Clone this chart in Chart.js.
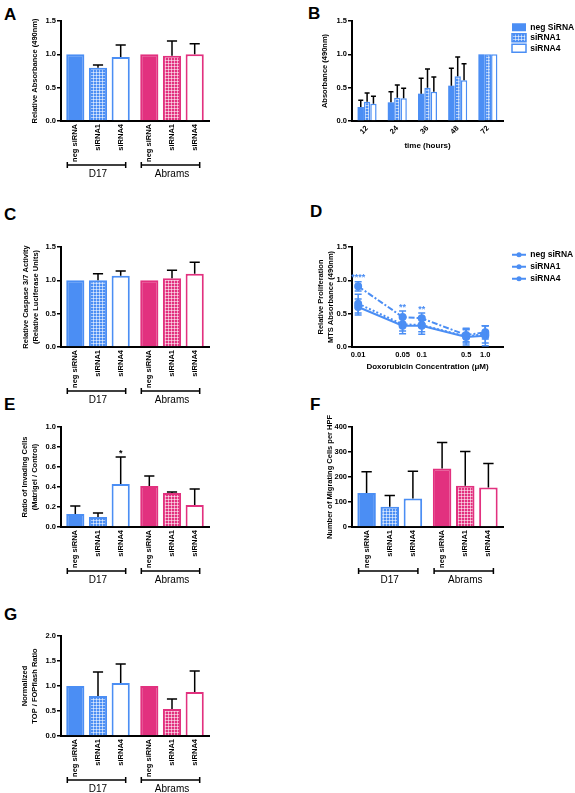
<!DOCTYPE html>
<html>
<head>
<meta charset="utf-8">
<script src="https://cdn.jsdelivr.net/npm/chart.js@4.4.0/dist/chart.umd.min.js"></script>
<style>
  body { margin: 0; background: #fff; }
  #page { position: relative; width: 575px; height: 793px; overflow: hidden; background: #fff; }
  canvas { position: absolute; }
  .tag { position: absolute; font: bold 17px/17px 'Liberation Sans', Arial, sans-serif; color: #000; }
</style>
</head>
<body>
<div id="page">
  <div class="tag" style="left:4px;top:6px">A</div>
  <div class="tag" style="left:308px;top:5px">B</div>
  <div class="tag" style="left:4px;top:206px">C</div>
  <div class="tag" style="left:310px;top:203px">D</div>
  <div class="tag" style="left:4px;top:396px">E</div>
  <div class="tag" style="left:310px;top:396px">F</div>
  <div class="tag" style="left:4px;top:606px">G</div>

  <canvas id="chartA" width="290" height="190" style="left:0;top:0"></canvas>
  <canvas id="chartB" width="285" height="151" style="left:290px;top:0"></canvas>
  <canvas id="chartC" width="290" height="190" style="left:0;top:226px"></canvas>
  <canvas id="chartD" width="285" height="146" style="left:290px;top:226px"></canvas>
  <canvas id="chartE" width="290" height="190" style="left:0;top:406px"></canvas>
  <canvas id="chartF" width="285" height="190" style="left:290px;top:406px"></canvas>
  <canvas id="chartG" width="290" height="178" style="left:0;top:615px"></canvas>
</div>
<script>
// shared categories
const groups = ['D17', 'Abrams'];
const seriesNames = ['neg siRNA', 'siRNA1', 'siRNA4'];

// A - relative absorbance (490nm)
const aNeg = [1.0, 1.0];
const aSi1 = [0.80, 0.98];
const aSi4 = [0.96, 1.0];
const aNegErr = [0, 0];
const aSi1Err = [0.04, 0.22];
const aSi4Err = [0.18, 0.16];

// B - absorbance over time
const hours = ['12', '24', '36', '48', '72'];
const bSeriesNames = ['neg SiRNA', 'siRNA1', 'siRNA4'];
const bNeg = [0.21, 0.28, 0.41, 0.53, 1.0];
const bSi1 = [0.29, 0.35, 0.50, 0.67, 1.0];
const bSi4 = [0.26, 0.34, 0.44, 0.61, 1.0];
const bNegErr = [0.10, 0.16, 0.23, 0.26, 0];
const bSi1Err = [0.13, 0.19, 0.28, 0.29, 0];
const bSi4Err = [0.11, 0.15, 0.22, 0.25, 0];

// C - caspase 3/7
const cNeg = [1.0, 1.0];
const cSi1 = [1.0, 1.03];
const cSi4 = [1.07, 1.10];
const cNegErr = [0, 0];
const cSi1Err = [0.10, 0.12];
const cSi4Err = [0.07, 0.17];

// D - proliferation vs doxorubicin
const doses = [0.01, 0.05, 0.1, 0.5, 1.0];
const doseLabels = ['0.01', '0.05', '0.1', '0.5', '1.0'];
const dNeg = [0.60, 0.32, 0.32, 0.15, 0.17];
const dSi1 = [0.91, 0.45, 0.43, 0.18, 0.22];
const dSi4 = [0.65, 0.34, 0.33, 0.16, 0.19];
const dNegErr = [0.12, 0.12, 0.13, 0.12, 0.15];
const dSi1Err = [0.07, 0.09, 0.08, 0.10, 0.10];
const dSi4Err = [0.14, 0.10, 0.10, 0.10, 0.13];
const dSi1Stars = ['****', '**', '**', '', ''];

// E - invading cells
const eNeg = [0.13, 0.41];
const eSi1 = [0.10, 0.34];
const eSi4 = [0.43, 0.22];
const eNegErr = [0.08, 0.10];
const eSi1Err = [0.04, 0.01];
const eSi4Err = [0.27, 0.16];
const eSi4Stars = ['*', ''];

// F - migrating cells per HPF
const fNeg = [136, 234];
const fSi1 = [81, 165];
const fSi4 = [114, 158];
const fNegErr = [85, 104];
const fSi1Err = [45, 137];
const fSi4Err = [109, 96];

// G - TOP/FOPflash
const gNeg = [1.0, 1.0];
const gSi1 = [0.80, 0.54];
const gSi4 = [1.06, 0.88];
const gNegErr = [0, 0];
const gSi1Err = [0.48, 0.20];
const gSi4Err = [0.38, 0.42];

const BLUE = '#4b8ef4';
const PINK = '#e2317f';
const FONT = "'Liberation Sans', Arial, sans-serif";
Chart.defaults.font.family = FONT;
Chart.defaults.color = '#000';

function hatch(ctx, color) {
  const t = document.createElement('canvas');
  t.width = 3; t.height = 3;
  const g = t.getContext('2d');
  g.fillStyle = color; g.fillRect(0, 0, 3, 3);
  g.fillStyle = 'rgba(255,255,255,0.55)';
  g.fillRect(0, 0, 3, 1); g.fillRect(0, 0, 1, 3);
  return ctx.createPattern(t, 'repeat');
}

// error bars (up only for bars, both ways for lines) + significance stars
const errorBars = {
  id: 'errorBars',
  afterDatasetsDraw(chart) {
    const ctx = chart.ctx, y = chart.scales.y;
    const isLine = chart.config.type === 'line';
    ctx.save();
    chart.data.datasets.forEach((ds, i) => {
      if (!ds.errs) return;
      const meta = chart.getDatasetMeta(i);
      const col = isLine ? ds.borderColor : '#000';
      meta.data.forEach((el, j) => {
        const v = isLine ? ds.data[j].y : ds.data[j];
        const e = ds.errs[j];
        const hw = isLine ? 3.5 : Math.max(2.5, el.width * 0.28);
        const hi = y.getPixelForValue(v + e);
        ctx.strokeStyle = col; ctx.lineWidth = 1.5; ctx.setLineDash([]);
        if (e) {
          const lo = isLine ? y.getPixelForValue(Math.max(0, v - e)) : el.y;
          ctx.beginPath();
          ctx.moveTo(el.x, lo); ctx.lineTo(el.x, hi);
          ctx.moveTo(el.x - hw, hi); ctx.lineTo(el.x + hw, hi);
          if (isLine) { ctx.moveTo(el.x - hw, lo); ctx.lineTo(el.x + hw, lo); }
          ctx.stroke();
        }
        if (ds.stars && ds.stars[j]) {
          ctx.fillStyle = col;
          ctx.font = 'bold 9px ' + FONT;
          ctx.textAlign = 'center'; ctx.textBaseline = 'alphabetic';
          ctx.fillText(ds.stars[j], el.x, hi - 1.5);
        }
      });
    });
    ctx.restore();
  }
};

// rotated bar names under the axis and group brackets
const groupLabels = {
  id: 'groupLabels',
  afterDraw(chart) {
    const ctx = chart.ctx, area = chart.chartArea;
    const metas = chart.data.datasets.map((d, i) => chart.getDatasetMeta(i));
    ctx.save();
    ctx.fillStyle = '#000'; ctx.strokeStyle = '#000'; ctx.lineWidth = 1.5;
    ctx.font = 'bold 7.5px ' + FONT;
    ctx.textAlign = 'right'; ctx.textBaseline = 'middle';
    metas.forEach((meta, i) => meta.data.forEach(el => {
      ctx.save();
      ctx.translate(el.x, area.bottom + 3);
      ctx.rotate(-Math.PI / 2);
      ctx.fillText(chart.data.datasets[i].label, 0, 0);
      ctx.restore();
    }));
    const yb = area.bottom + 44;
    chart.data.labels.forEach((g, k) => {
      const x0 = metas[0].data[k].x - 8;
      const x1 = metas[metas.length - 1].data[k].x + 5;
      ctx.beginPath();
      ctx.moveTo(x0, yb); ctx.lineTo(x1, yb);
      ctx.moveTo(x0, yb - 3); ctx.lineTo(x0, yb + 3);
      ctx.moveTo(x1, yb - 3); ctx.lineTo(x1, yb + 3);
      ctx.stroke();
    });
    ctx.restore();
  }
};

// put the point marker on the legend line samples
const legendDots = {
  id: 'legendDots',
  afterDraw(chart) {
    const ctx = chart.ctx, boxes = chart.legend.legendHitBoxes;
    ctx.save();
    boxes.forEach((b, i) => {
      ctx.fillStyle = chart.data.datasets[i].borderColor;
      ctx.beginPath();
      ctx.arc(b.left + 7, b.top + b.height / 2, 2.5, 0, Math.PI * 2);
      ctx.fill();
    });
    ctx.restore();
  }
};

function yAxis(max, step, title, titlePad, width, fmt) {
  return {
    min: 0, max: max,
    ticks: { stepSize: step, padding: 1, color: '#000', font: { size: 7.5, weight: 'bold' }, callback: fmt },
    grid: { display: true, drawOnChartArea: false, drawTicks: true, tickLength: 4, color: '#000', lineWidth: 1.5 },
    border: { display: true, color: '#000', width: 2 },
    title: { display: true, text: title, color: '#000', font: { size: 7.5, weight: 'bold', lineHeight: 1.3 }, padding: { top: titlePad, bottom: 0 } },
    afterFit(s) { s.width = width; s.paddingTop = 0; s.paddingBottom = 0; }
  };
}

// invisible spacer between plot and legend
function gapAxis(w) {
  return {
    type: 'linear', position: 'right', display: false, min: 0, max: 1,
    afterFit(s) { s.width = w; }
  };
}

const dec1 = v => Number(v).toFixed(1);

function groupedBars(id, p) {
  const canvas = document.getElementById(id);
  const ctx = canvas.getContext('2d');
  const fills = [[BLUE, PINK], [hatch(ctx, BLUE), hatch(ctx, PINK)], ['#fff', '#fff']];
  const datasets = seriesNames.map((name, i) => ({
    label: name,
    data: p.means[i],
    errs: p.errs[i],
    stars: p.stars ? p.stars[i] : null,
    backgroundColor: fills[i],
    borderColor: [BLUE, PINK],
    borderWidth: 2,
    categoryPercentage: 0.92,
    barPercentage: 0.8
  }));
  return new Chart(ctx, {
    type: 'bar',
    data: { labels: groups, datasets: datasets },
    options: {
      responsive: false,
      animation: false,
      layout: { padding: { left: 0, top: 21, right: p.padRight, bottom: 0 } },
      plugins: { legend: { display: false }, tooltip: { enabled: false } },
      scales: {
        x: {
          grid: { display: false, drawTicks: false },
          border: { display: true, color: '#000', width: 2 },
          ticks: { color: '#000', font: { size: 10 }, padding: 47, maxRotation: 0, minRotation: 0 },
          afterFit(s) { s.height = canvas.height - 121; s.paddingLeft = 0; s.paddingRight = 0; }
        },
        y: yAxis(p.max, p.step, p.title, p.titlePad, p.yWidth, p.fmt)
      }
    },
    plugins: [errorBars, groupLabels]
  });
}

groupedBars('chartA', {
  means: [aNeg, aSi1, aSi4], errs: [aNegErr, aSi1Err, aSi4Err],
  max: 1.5, step: 0.5, fmt: dec1, title: 'Relative Absorbance (490nm)', titlePad: 30,
  yWidth: 61, padRight: 81
});
groupedBars('chartC', {
  means: [cNeg, cSi1, cSi4], errs: [cNegErr, cSi1Err, cSi4Err],
  max: 1.5, step: 0.5, fmt: dec1, title: ['Relative Caspase 3/7 Activity', '(Relative Luciferase Units)'], titlePad: 21,
  yWidth: 61, padRight: 81
});
groupedBars('chartE', {
  means: [eNeg, eSi1, eSi4], errs: [eNegErr, eSi1Err, eSi4Err], stars: [null, null, eSi4Stars],
  max: 1.0, step: 0.2, fmt: dec1, title: ['Ratio of Invading Cells', '(Matrigel / Control)'], titlePad: 20,
  yWidth: 61, padRight: 81
});
groupedBars('chartF', {
  means: [fNeg, fSi1, fSi4], errs: [fNegErr, fSi1Err, fSi4Err],
  max: 400, step: 100, fmt: v => v, title: 'Number of Migrating Cells per HPF', titlePad: 35,
  yWidth: 62, padRight: 72
});
groupedBars('chartG', {
  means: [gNeg, gSi1, gSi4], errs: [gNegErr, gSi1Err, gSi4Err],
  max: 2.0, step: 0.5, fmt: dec1, title: ['Normalized', 'TOP / FOPflash Ratio'], titlePad: 20,
  yWidth: 61, padRight: 81
});

// B - time course bars with legend
(function () {
  const canvas = document.getElementById('chartB');
  const ctx = canvas.getContext('2d');
  const fills = [BLUE, hatch(ctx, BLUE), '#fff'];
  const means = [bNeg, bSi1, bSi4];
  const errs = [bNegErr, bSi1Err, bSi4Err];
  new Chart(ctx, {
    type: 'bar',
    data: {
      labels: hours,
      datasets: bSeriesNames.map((name, i) => ({
        label: name, data: means[i], errs: errs[i],
        backgroundColor: fills[i], borderColor: BLUE, borderWidth: i === 0 ? 0 : 1.5,
        categoryPercentage: 0.63, barPercentage: 1.0
      }))
    },
    options: {
      responsive: false,
      animation: false,
      layout: { padding: { left: 0, top: 21, right: 0, bottom: 0 } },
      plugins: {
        tooltip: { enabled: false },
        legend: {
          display: true, position: 'right', align: 'start', maxWidth: 65,
          labels: { boxWidth: 14, boxHeight: 8, padding: 2, color: '#000', font: { size: 8.5, weight: 'bold' } }
        }
      },
      scales: {
        x: {
          grid: { display: false, drawTicks: false },
          border: { display: true, color: '#000', width: 2 },
          ticks: { color: '#000', font: { size: 7.5, weight: 'bold' }, padding: 3, minRotation: 45, maxRotation: 45 },
          title: { display: true, text: 'time (hours)', color: '#000', font: { size: 8, weight: 'bold' }, padding: 0 },
          afterFit(s) { s.height = canvas.height - 121; s.paddingLeft = 0; s.paddingRight = 0; }
        },
        y: yAxis(1.5, 0.5, 'Absorbance (490nm)', 30, 62, dec1),
        gap: gapAxis(7)
      }
    },
    plugins: [errorBars]
  });
})();

// D - dose response lines
(function () {
  const canvas = document.getElementById('chartD');
  const ctx = canvas.getContext('2d');
  const vals = [dNeg, dSi1, dSi4];
  const errs = [dNegErr, dSi1Err, dSi4Err];
  const dashes = [[], [6, 2, 2, 2], [2, 2]];
  new Chart(ctx, {
    type: 'line',
    data: {
      datasets: seriesNames.map((name, i) => ({
        label: name,
        data: doses.map((d, k) => ({ x: d, y: vals[i][k] })),
        errs: errs[i],
        stars: i === 1 ? dSi1Stars : null,
        borderColor: BLUE, backgroundColor: BLUE,
        pointBackgroundColor: BLUE, pointBorderColor: BLUE, pointRadius: 3,
        borderWidth: 2, borderDash: dashes[i], fill: false, tension: 0
      }))
    },
    options: {
      responsive: false,
      animation: false,
      layout: { padding: { left: 0, top: 21, right: 0, bottom: 0 } },
      plugins: {
        tooltip: { enabled: false },
        legend: {
          display: true, position: 'right', align: 'start', maxWidth: 66.5,
          labels: { usePointStyle: true, pointStyle: 'line', pointStyleWidth: 14, boxHeight: 8, padding: 3.5, color: '#000', font: { size: 8.5, weight: 'bold' } }
        }
      },
      scales: {
        x: {
          type: 'logarithmic', min: 0.008, max: 1.9,
          grid: { display: false, drawTicks: false },
          border: { display: true, color: '#000', width: 2 },
          ticks: { color: '#000', font: { size: 7.5, weight: 'bold' }, padding: 3, autoSkip: false, maxRotation: 0, minRotation: 0,
            callback: (v, i) => doseLabels[i] },
          afterBuildTicks(s) { s.ticks = doses.map(v => ({ value: v })); },
          title: { display: true, text: 'Doxorubicin Concentration (μM)', color: '#000', font: { size: 8, weight: 'bold' }, padding: 0 },
          afterFit(s) { s.height = canvas.height - 121; s.paddingLeft = 0; s.paddingRight = 0; }
        },
        y: yAxis(1.5, 0.5, ['Relative Proliferation', 'MTS Absorbance (490nm)'], 26, 62, dec1),
        gap: gapAxis(5.5)
      }
    },
    plugins: [errorBars, legendDots]
  });
})();
</script>
</body>
</html>
